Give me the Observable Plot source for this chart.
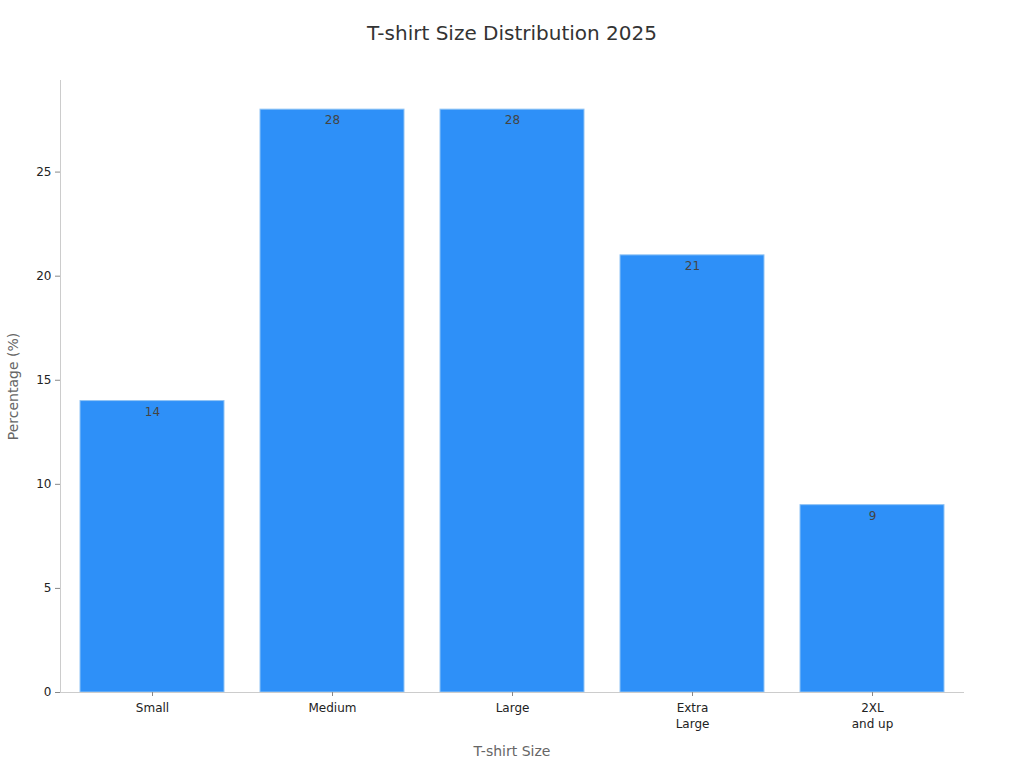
<!DOCTYPE html>
<html>
<head>
<meta charset="utf-8">
<script src="https://cdn.jsdelivr.net/npm/d3@7"></script>
<script src="https://cdn.jsdelivr.net/npm/@observablehq/plot@0.6"></script>
<style>
  body { margin: 0; background: #fff; font-family: "DejaVu Sans", sans-serif; }
  #title { height: 60px; line-height: 66px; text-align: center; font-size: 20px; color: #333; }
</style>
</head>
<body>
<div id="title">T-shirt Size Distribution 2025</div>
<div id="chart"></div>
<script>
const sizes = ["Small", "Medium", "Large", "Extra\nLarge", "2XL\nand up"];
const percentages = [14, 28, 28, 21, 9];
const yTicks = [0, 5, 10, 15, 20, 25];

const data = sizes.map((s, i) => ({size: s, pct: percentages[i]}));

const chart = Plot.plot({
  width: 1024,
  height: 708,
  marginTop: 20,
  marginBottom: 76,
  marginLeft: 60,
  marginRight: 61,
  style: {fontFamily: "DejaVu Sans, sans-serif", fontSize: "12px", color: "#222", background: "#fff"},
  x: {domain: sizes, paddingInner: 0.2, paddingOuter: 0.1, label: null},
  y: {domain: [0, 29.4], label: null},
  marks: [
    Plot.barY(data, {x: "size", y: "pct", fill: "#2E90F8", stroke: "#90C4F5", strokeWidth: 1}),
    Plot.text(data, {x: "size", y: "pct", text: d => String(d.pct), dy: 11, fill: "#444", fontSize: 12}),
    Plot.frame({anchor: "left", stroke: "#ccc"}),
    Plot.frame({anchor: "bottom", stroke: "#ccc"}),
    Plot.axisY({ticks: yTicks, tickSize: 5, tickPadding: 4, stroke: "#888", label: null}),
    Plot.axisX({tickSize: 4, tickPadding: 4, lineHeight: 1.33, stroke: "#888", label: null}),
    Plot.text(["Percentage (%)"], {frameAnchor: "left", textAnchor: "middle", dx: -47, rotate: -90, text: d => d, fill: "#666", fontSize: 14}),
    Plot.text(["T-shirt Size"], {frameAnchor: "bottom", dy: 63, text: d => d, fill: "#666", fontSize: 14})
  ]
});
document.getElementById("chart").appendChild(chart);
</script>
</body>
</html>
